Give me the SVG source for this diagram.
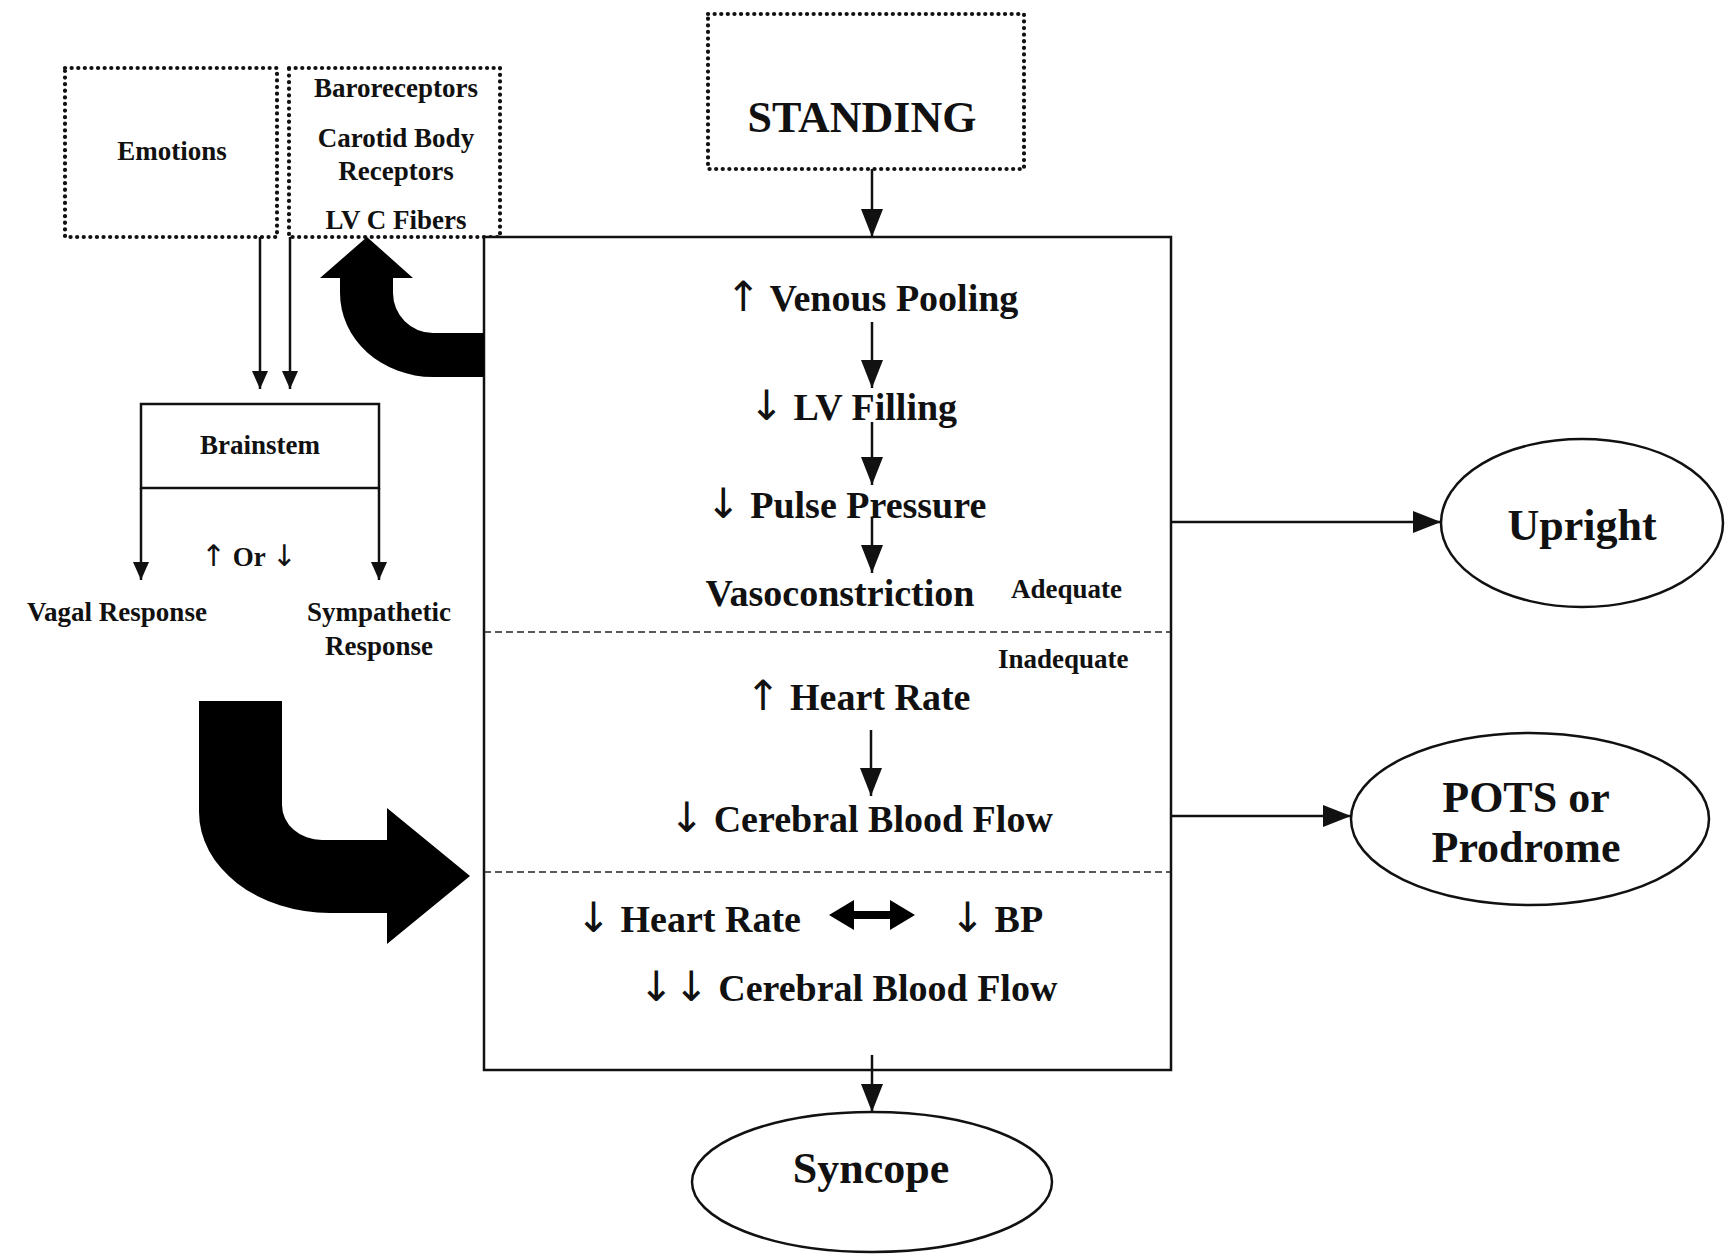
<svg xmlns="http://www.w3.org/2000/svg" width="1729" height="1254" viewBox="0 0 1729 1254">
<style>
.t{font-family:"Liberation Serif","Times New Roman",serif;font-weight:bold;fill:#111}
.big{font-size:38px}
.sm{font-size:27px}
.xl{font-size:44px}
.ar{font-family:"DejaVu Sans",sans-serif;font-weight:normal;font-size:1.1em}
.dot{fill:none;stroke:#111;stroke-width:4.2;stroke-dasharray:0.1 6.5;stroke-linecap:round}
.box{fill:#fff;stroke:#111;stroke-width:2.5}
.ln{fill:none;stroke:#111;stroke-width:2.5}
.dash{fill:none;stroke:#222;stroke-width:1.6;stroke-dasharray:7 4}
.solid{fill:#000}
</style>
<defs>
<marker id="ah" viewBox="0 0 28 22" refX="28" refY="11" markerWidth="28" markerHeight="22" orient="auto" markerUnits="userSpaceOnUse"><path d="M0,0 L28,11 L0,22 Z" fill="#111"/></marker>
<marker id="as" viewBox="0 0 18 16" refX="18" refY="8" markerWidth="18" markerHeight="16" orient="auto" markerUnits="userSpaceOnUse"><path d="M0,0 L18,8 L0,16 Z" fill="#111"/></marker>
</defs>

<g id="emotions"><rect class="dot" x="65" y="68" width="212" height="169"/><text class="t sm" x="172" y="160" text-anchor="middle">Emotions</text></g>
<g id="receptors"><rect class="dot" x="289" y="68" width="211" height="169"/>
<text class="t sm" x="396" y="97" text-anchor="middle">Baroreceptors</text>
<text class="t sm" x="396" y="147" text-anchor="middle">Carotid Body</text>
<text class="t sm" x="396" y="180" text-anchor="middle">Receptors</text>
<text class="t sm" x="396" y="229" text-anchor="middle">LV C Fibers</text></g>
<g id="standing"><rect class="dot" x="708" y="14" width="316" height="155"/><text class="t xl" x="862" y="132" text-anchor="middle">STANDING</text></g>

<g id="main"><rect class="box" x="484" y="237" width="687" height="833"/>
<line class="dash" x1="484" y1="632" x2="1171" y2="632"/>
<line class="dash" x1="484" y1="872" x2="1171" y2="872"/>
<text class="t big" x="872" y="311" text-anchor="middle"><tspan class="ar">↑</tspan> Venous Pooling</text>
<text class="t big" x="853" y="420" text-anchor="middle"><tspan class="ar">↓</tspan> LV Filling</text>
<text class="t big" x="846" y="518" text-anchor="middle"><tspan class="ar">↓</tspan> Pulse Pressure</text>
<text class="t big" x="840" y="606" text-anchor="middle">Vasoconstriction</text>
<text class="t sm" x="1011" y="598">Adequate</text>
<text class="t sm" x="998" y="668">Inadequate</text>
<text class="t big" x="858" y="710" text-anchor="middle"><tspan class="ar">↑</tspan> Heart Rate</text>
<text class="t big" x="861" y="832" text-anchor="middle"><tspan class="ar">↓</tspan> Cerebral Blood Flow</text>
<text class="t big" x="576" y="932"><tspan class="ar">↓</tspan> Heart Rate</text>
<text class="t big" x="950" y="932"><tspan class="ar">↓</tspan> BP</text>
<text class="t big" x="848" y="1001" text-anchor="middle"><tspan class="ar">↓↓</tspan> Cerebral Blood Flow</text>
<polygon class="solid" points="829,915 854,900 854,911 890,911 890,900 915,915 890,930 890,919 854,919 854,930"/>
</g>

<g id="brainstem"><rect class="box" x="141" y="404" width="238" height="84"/><text class="t sm" x="260" y="454" text-anchor="middle">Brainstem</text></g>
<g id="ornode"><text class="t sm" x="249" y="566" text-anchor="middle"><tspan class="ar">↑</tspan> Or <tspan class="ar">↓</tspan></text></g>
<g id="vagal"><text class="t sm" x="117" y="621" text-anchor="middle">Vagal Response</text></g>
<g id="sympathetic"><text class="t sm" x="379" y="621" text-anchor="middle">Sympathetic</text><text class="t sm" x="379" y="655" text-anchor="middle">Response</text></g>

<g id="upright"><ellipse class="box" cx="1582" cy="523" rx="141" ry="84"/><text class="t xl" x="1582" y="540" text-anchor="middle">Upright</text></g>
<g id="pots"><ellipse class="box" cx="1530" cy="819" rx="179" ry="86"/><text class="t xl" x="1526" y="812" text-anchor="middle">POTS or</text><text class="t xl" x="1526" y="862" text-anchor="middle">Prodrome</text></g>
<g id="syncope"><ellipse class="box" cx="872" cy="1182" rx="180" ry="70"/><text class="t xl" x="871" y="1183" text-anchor="middle">Syncope</text></g>

<g id="connectors">
<line class="ln" x1="872" y1="169" x2="872" y2="237" marker-end="url(#ah)"/>
<line class="ln" x1="872" y1="322" x2="872" y2="388" marker-end="url(#ah)"/>
<line class="ln" x1="872" y1="422" x2="872" y2="485" marker-end="url(#ah)"/>
<line class="ln" x1="872" y1="518" x2="872" y2="573" marker-end="url(#ah)"/>
<line class="ln" x1="871" y1="730" x2="871" y2="796" marker-end="url(#ah)"/>
<line class="ln" x1="872" y1="1055" x2="872" y2="1112" marker-end="url(#ah)"/>
<line class="ln" x1="1171" y1="522" x2="1441" y2="522" stroke-width="3.5" marker-end="url(#ah)"/>
<line class="ln" x1="1171" y1="816" x2="1351" y2="816" stroke-width="3.5" marker-end="url(#ah)"/>
<line class="ln" x1="260" y1="237" x2="260" y2="389" marker-end="url(#as)"/>
<line class="ln" x1="290" y1="237" x2="290" y2="389" marker-end="url(#as)"/>
<line class="ln" x1="141" y1="488" x2="141" y2="580" marker-end="url(#as)"/>
<line class="ln" x1="379" y1="488" x2="379" y2="580" marker-end="url(#as)"/>
<path class="solid" d="M484,333 L433,333 A40,40 0 0 1 393,293 L393,278 L413,278 L367,237 L320,278 L340,278 L340,293 A93,84 0 0 0 433,377 L484,377 Z"/>
<path class="solid" d="M199,701 L282,701 L282,805 A40,35 0 0 0 322,840 L387,840 L387,808 L470,876 L387,944 L387,913 L330,913 A131,101 0 0 1 199,812 Z"/>
</g>
</svg>
